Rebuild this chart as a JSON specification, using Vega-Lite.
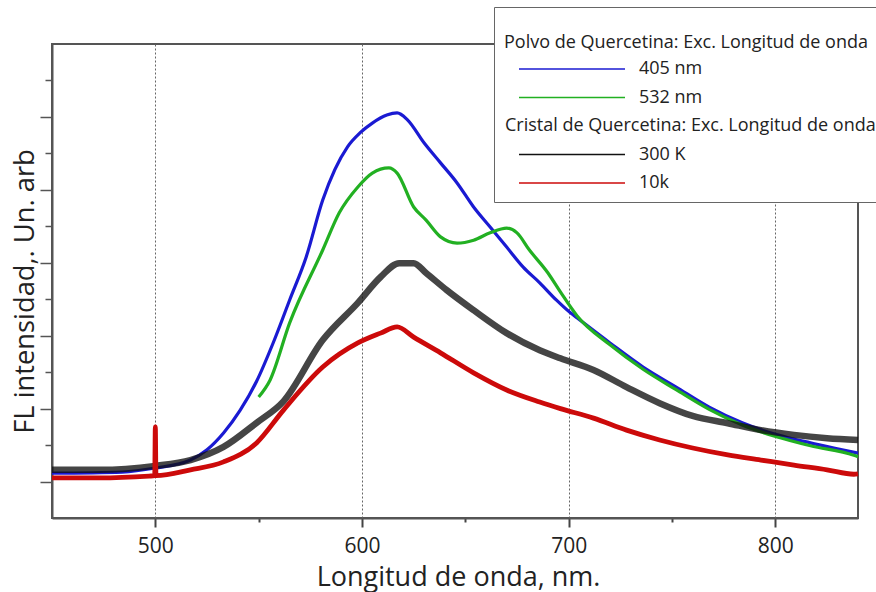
{
  "$schema": "https://vega.github.io/schema/vega-lite/v6.json",
  "width": 806,
  "height": 474,
  "autosize": {"type": "none"},
  "padding": {"left": 52, "top": 44, "right": 18, "bottom": 74},
  "background": "white",
  "config": {
    "view": {"stroke": "#555", "strokeWidth": 2},
    "font": "Open Sans"
  },
  "data": {
    "values": [
      {"series": "405 nm", "wl": 450, "fl": 1.23},
      {"series": "405 nm", "wl": 484, "fl": 1.26},
      {"series": "405 nm", "wl": 500, "fl": 1.37},
      {"series": "405 nm", "wl": 517, "fl": 1.59},
      {"series": "405 nm", "wl": 525, "fl": 1.87},
      {"series": "405 nm", "wl": 533, "fl": 2.33},
      {"series": "405 nm", "wl": 541, "fl": 2.95},
      {"series": "405 nm", "wl": 549, "fl": 3.75},
      {"series": "405 nm", "wl": 557, "fl": 4.8},
      {"series": "405 nm", "wl": 565, "fl": 5.98},
      {"series": "405 nm", "wl": 573, "fl": 7.16},
      {"series": "405 nm", "wl": 581, "fl": 8.72},
      {"series": "405 nm", "wl": 593, "fl": 10.18},
      {"series": "405 nm", "wl": 599, "fl": 10.56},
      {"series": "405 nm", "wl": 605, "fl": 10.83},
      {"series": "405 nm", "wl": 612, "fl": 11.05},
      {"series": "405 nm", "wl": 617, "fl": 11.11},
      {"series": "405 nm", "wl": 622, "fl": 10.92},
      {"series": "405 nm", "wl": 630, "fl": 10.29},
      {"series": "405 nm", "wl": 638, "fl": 9.74},
      {"series": "405 nm", "wl": 646, "fl": 9.19},
      {"series": "405 nm", "wl": 654, "fl": 8.53},
      {"series": "405 nm", "wl": 662, "fl": 7.98},
      {"series": "405 nm", "wl": 670, "fl": 7.43},
      {"series": "405 nm", "wl": 678, "fl": 6.88},
      {"series": "405 nm", "wl": 686, "fl": 6.45},
      {"series": "405 nm", "wl": 694, "fl": 5.98},
      {"series": "405 nm", "wl": 701, "fl": 5.62},
      {"series": "405 nm", "wl": 704, "fl": 5.49},
      {"series": "405 nm", "wl": 720, "fl": 4.8},
      {"series": "405 nm", "wl": 736, "fl": 4.14},
      {"series": "405 nm", "wl": 752, "fl": 3.59},
      {"series": "405 nm", "wl": 768, "fl": 3.04},
      {"series": "405 nm", "wl": 784, "fl": 2.61},
      {"series": "405 nm", "wl": 801, "fl": 2.28},
      {"series": "405 nm", "wl": 817, "fl": 2.06},
      {"series": "405 nm", "wl": 830, "fl": 1.9},
      {"series": "405 nm", "wl": 840, "fl": 1.78},

      {"series": "532 nm", "wl": 550, "fl": 3.32},
      {"series": "532 nm", "wl": 555.5, "fl": 3.78},
      {"series": "532 nm", "wl": 565, "fl": 5.35},
      {"series": "532 nm", "wl": 581, "fl": 7.35},
      {"series": "532 nm", "wl": 589, "fl": 8.37},
      {"series": "532 nm", "wl": 598, "fl": 9.08},
      {"series": "532 nm", "wl": 605, "fl": 9.46},
      {"series": "532 nm", "wl": 613, "fl": 9.6},
      {"series": "532 nm", "wl": 617, "fl": 9.46},
      {"series": "532 nm", "wl": 625, "fl": 8.53},
      {"series": "532 nm", "wl": 631, "fl": 8.17},
      {"series": "532 nm", "wl": 638, "fl": 7.71},
      {"series": "532 nm", "wl": 646, "fl": 7.54},
      {"series": "532 nm", "wl": 654, "fl": 7.62},
      {"series": "532 nm", "wl": 662, "fl": 7.82},
      {"series": "532 nm", "wl": 670, "fl": 7.95},
      {"series": "532 nm", "wl": 675, "fl": 7.82},
      {"series": "532 nm", "wl": 681, "fl": 7.35},
      {"series": "532 nm", "wl": 690, "fl": 6.72},
      {"series": "532 nm", "wl": 696, "fl": 6.2},
      {"series": "532 nm", "wl": 704, "fl": 5.55},
      {"series": "532 nm", "wl": 720, "fl": 4.75},
      {"series": "532 nm", "wl": 736, "fl": 4.08},
      {"series": "532 nm", "wl": 752, "fl": 3.52},
      {"series": "532 nm", "wl": 768, "fl": 2.98},
      {"series": "532 nm", "wl": 784, "fl": 2.55},
      {"series": "532 nm", "wl": 801, "fl": 2.22},
      {"series": "532 nm", "wl": 817, "fl": 1.98},
      {"series": "532 nm", "wl": 838, "fl": 1.72},
      {"series": "532 nm", "wl": 840, "fl": 1.68},

      {"series": "300 K", "wl": 450, "fl": 1.32},
      {"series": "300 K", "wl": 473, "fl": 1.32},
      {"series": "300 K", "wl": 500, "fl": 1.43},
      {"series": "300 K", "wl": 517, "fl": 1.59},
      {"series": "300 K", "wl": 533, "fl": 1.95},
      {"series": "300 K", "wl": 549, "fl": 2.61},
      {"series": "300 K", "wl": 562, "fl": 3.2},
      {"series": "300 K", "wl": 581, "fl": 4.88},
      {"series": "300 K", "wl": 598, "fl": 5.9},
      {"series": "300 K", "wl": 609, "fl": 6.61},
      {"series": "300 K", "wl": 618, "fl": 6.99},
      {"series": "300 K", "wl": 625, "fl": 6.99},
      {"series": "300 K", "wl": 631, "fl": 6.72},
      {"series": "300 K", "wl": 641, "fl": 6.25},
      {"series": "300 K", "wl": 654, "fl": 5.7},
      {"series": "300 K", "wl": 670, "fl": 5.07},
      {"series": "300 K", "wl": 686, "fl": 4.6},
      {"series": "300 K", "wl": 696, "fl": 4.38},
      {"series": "300 K", "wl": 712, "fl": 4.06},
      {"series": "300 K", "wl": 728, "fl": 3.59},
      {"series": "300 K", "wl": 744, "fl": 3.15},
      {"series": "300 K", "wl": 760, "fl": 2.8},
      {"series": "300 K", "wl": 777, "fl": 2.6},
      {"series": "300 K", "wl": 793, "fl": 2.41},
      {"series": "300 K", "wl": 809, "fl": 2.28},
      {"series": "300 K", "wl": 825, "fl": 2.19},
      {"series": "300 K", "wl": 840, "fl": 2.14},

      {"series": "10k", "wl": 450, "fl": 1.1},
      {"series": "10k", "wl": 473, "fl": 1.1},
      {"series": "10k", "wl": 497, "fl": 1.15},
      {"series": "10k", "wl": 499.7, "fl": 1.16},
      {"series": "10k", "wl": 500, "fl": 2.5},
      {"series": "10k", "wl": 500.3, "fl": 1.16},
      {"series": "10k", "wl": 517, "fl": 1.32},
      {"series": "10k", "wl": 533, "fl": 1.54},
      {"series": "10k", "wl": 549, "fl": 2.06},
      {"series": "10k", "wl": 562, "fl": 2.96},
      {"series": "10k", "wl": 581, "fl": 4.14},
      {"series": "10k", "wl": 598, "fl": 4.8},
      {"series": "10k", "wl": 609, "fl": 5.07},
      {"series": "10k", "wl": 617, "fl": 5.24},
      {"series": "10k", "wl": 625, "fl": 4.96},
      {"series": "10k", "wl": 638, "fl": 4.53},
      {"series": "10k", "wl": 654, "fl": 3.98},
      {"series": "10k", "wl": 670, "fl": 3.51},
      {"series": "10k", "wl": 686, "fl": 3.18},
      {"series": "10k", "wl": 696, "fl": 3.0},
      {"series": "10k", "wl": 712, "fl": 2.74},
      {"series": "10k", "wl": 728, "fl": 2.41},
      {"series": "10k", "wl": 744, "fl": 2.14},
      {"series": "10k", "wl": 760, "fl": 1.92},
      {"series": "10k", "wl": 777, "fl": 1.73},
      {"series": "10k", "wl": 793, "fl": 1.59},
      {"series": "10k", "wl": 809, "fl": 1.45},
      {"series": "10k", "wl": 825, "fl": 1.32},
      {"series": "10k", "wl": 838, "fl": 1.2},
      {"series": "10k", "wl": 840, "fl": 1.21}
    ]
  },
  "encoding": {
    "x": {
      "field": "wl",
      "type": "quantitative",
      "scale": {"domain": [450, 840], "nice": false, "zero": false},
      "axis": {
        "values": [500, 550, 600, 650, 700, 750, 800],
        "format": "d",
        "labelExpr": "datum.value % 100 === 0 ? datum.label : ''",
        "grid": true,
        "gridDash": [2, 2],
        "gridColor": "#666",
        "gridWidth": 1,
        "gridOpacity": {"condition": {"test": "datum.value % 100 === 0", "value": 1}, "value": 0},
        "tickSize": {"condition": {"test": "datum.value % 100 === 0", "value": 9}, "value": 4},
        "tickColor": "#444",
        "tickWidth": 2,
        "domainColor": "#555",
        "domainWidth": 2,
        "labelFontSize": 21,
        "labelColor": "#222",
        "labelPadding": 8,
        "labelFont": "Open Sans",
        "title": "Longitud de onda, nm.",
        "titleFont": "Open Sans",
        "titleFontSize": 27,
        "titleFontWeight": "normal",
        "titleColor": "#222",
        "titleX": 406,
        "titleY": 67,
        "titleBaseline": "alphabetic",
        "titleAlign": "center"
      }
    },
    "y": {
      "field": "fl",
      "type": "quantitative",
      "scale": {"domain": [0, 13], "nice": false, "zero": false},
      "axis": {
        "values": [1, 2, 3, 4, 5, 6, 7, 8, 9, 10, 11, 12],
        "labels": false,
        "grid": false,
        "tickSize": {"condition": {"test": "datum.value % 2 === 1", "value": 12}, "value": 7},
        "tickColor": "#555",
        "tickWidth": 1.5,
        "domainColor": "#555",
        "domainWidth": 2,
        "title": "FL intensidad,. Un. arb",
        "titleFont": "Open Sans",
        "titleFontSize": 27.3,
        "titleFontWeight": "normal",
        "titleColor": "#222",
        "titleX": -19,
        "titleY": 247,
        "titleAngle": -90,
        "titleBaseline": "alphabetic",
        "titleAlign": "center"
      }
    },
    "color": {
      "field": "series",
      "type": "nominal",
      "scale": {
        "domain": ["405 nm", "532 nm", "Cristal de Quercetina: Exc. Longitud de onda", "300 K", "10k"],
        "range": ["#1a1ad2", "#22b022", "#ffffff", "#111111", "#cc0a0a"]
      },
      "legend": {
        "orient": "none",
        "legendX": 442,
        "legendY": -37,
        "title": ["", "Polvo de Quercetina: Exc. Longitud de onda"],
        "values": ["405 nm", "532 nm", "Cristal de Quercetina: Exc. Longitud de onda", "300 K", "10k"],
        "padding": 10,
        "strokeColor": "#666",
        "fillColor": "white",
        "titleFont": "Open Sans",
        "titleFontSize": 18,
        "titleFontWeight": "normal",
        "titleColor": "#222",
        "titleLineHeight": 17,
        "titlePadding": 8,
        "titleLimit": 600,
        "labelFont": "Open Sans",
        "labelFontSize": 18,
        "labelColor": "#222",
        "labelLimit": 600,
        "labelOffset": 58,
        "symbolType": "M-10.6,0H10.6",
        "symbolSize": 100,
        "symbolOffset": 59,
        "symbolStrokeWidth": 1.5,
        "rowPadding": 10.5,
        "encode": {
          "symbols": {
            "update": {
              "stroke": {"signal": "datum.value === '405 nm' ? '#4a72c0' : datum.value === '532 nm' ? '#6fb040' : datum.value === '300 K' ? '#111111' : datum.value === '10k' ? '#e8843a' : 'transparent'"},
              "fill": {"value": "transparent"}
            }
          },
          "labels": {
            "update": {
              "dx": {"signal": "datum.value === 'Cristal de Quercetina: Exc. Longitud de onda' ? -134 : 0"}
            }
          }
        }
      }
    }
  },
  "layer": [
    {
      "transform": [{"filter": "datum.series === '405 nm'"}],
      "mark": {"type": "line", "strokeWidth": 3.2, "interpolate": "monotone"}
    },
    {
      "transform": [{"filter": "datum.series === '532 nm'"}],
      "mark": {"type": "line", "strokeWidth": 3.2, "interpolate": "monotone"}
    },
    {
      "transform": [{"filter": "datum.series === '300 K'"}],
      "mark": {"type": "line", "strokeWidth": 6.5, "opacity": 0.78, "interpolate": "monotone"}
    },
    {
      "transform": [{"filter": "datum.series === '10k'"}],
      "mark": {"type": "line", "strokeWidth": 4.8, "interpolate": "monotone"}
    }
  ]
}
